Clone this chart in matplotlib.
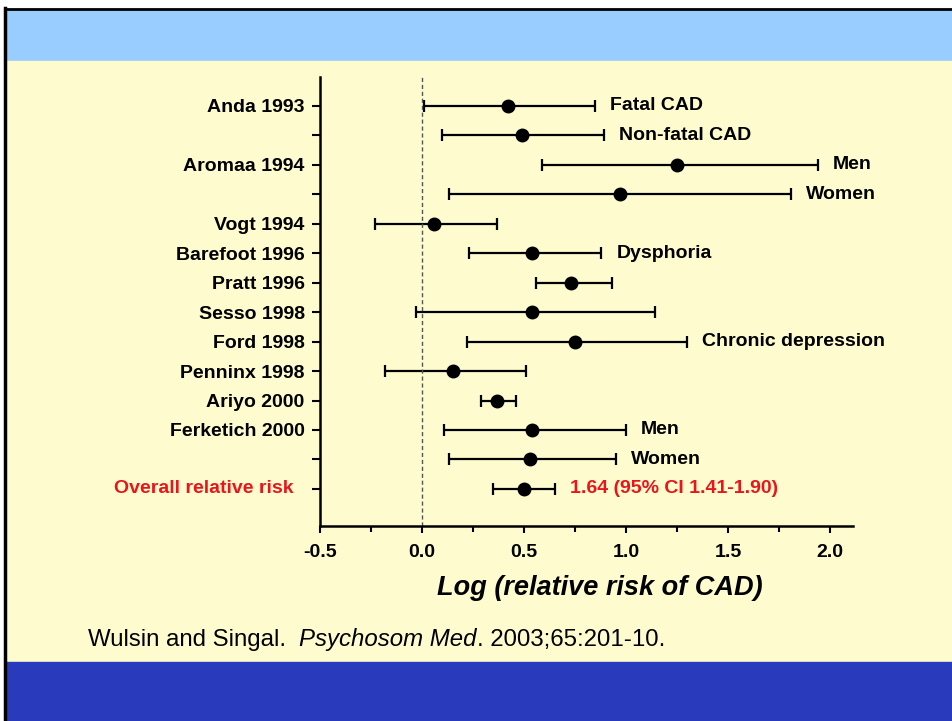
import numpy as np
import matplotlib.pyplot as plt
from matplotlib.patches import Rectangle
from matplotlib.ticker import MultipleLocator

plt.rcParams['font.family'] = ['Liberation Sans', 'DejaVu Sans']

# study rows, top to bottom
studies = ["Anda 1993", "", "Aromaa 1994", "", "Vogt 1994", "Barefoot 1996",
           "Pratt 1996", "Sesso 1998", "Ford 1998", "Penninx 1998",
           "Ariyo 2000", "Ferketich 2000", "", "Overall relative risk"]
notes = ["Fatal CAD", "Non-fatal CAD", "Men", "Women", "", "Dysphoria", "", "",
         "Chronic depression", "", "", "Men", "Women", "1.64 (95% CI 1.41-1.90)"]
log_rr = [0.42, 0.49, 1.25, 0.97, 0.06, 0.54, 0.73, 0.54, 0.75, 0.15, 0.37, 0.54, 0.53, 0.50]
ci_low = [0.01, 0.10, 0.59, 0.13, -0.23, 0.23, 0.56, -0.03, 0.22, -0.18, 0.29, 0.11, 0.13, 0.35]
ci_high = [0.85, 0.89, 1.94, 1.81, 0.37, 0.88, 0.93, 1.14, 1.30, 0.51, 0.46, 1.00, 0.95, 0.65]
x_ticks = [-0.5, 0.0, 0.5, 1.0, 1.5, 2.0]

W, H = 952, 721
RED = '#e8161c'
FS = 14
fig = plt.figure(figsize=(W / 100, H / 100), dpi=100)

# slide background
bg = fig.add_axes([0, 0, 1, 1])
bg.set_xlim(0, W)
bg.set_ylim(H, 0)
bg.axis('off')
bg.add_patch(Rectangle((0, 0), W, H, color='white'))
bg.add_patch(Rectangle((5, 9), W, 52, color='#99ccff'))
bg.add_patch(Rectangle((5, 61), W, 601, color='#fefccf'))
bg.add_patch(Rectangle((5, 662), W, 59, color='#2a3abd'))
bg.plot([5, W], [8.5, 8.5], color='black', lw=2)
bg.plot([5, 5], [8, H], color='black', lw=2.5)

# forest plot
ax = fig.add_axes([320 / W, 1 - 526 / H, (853 - 320) / W, (526 - 77) / H])
ax.set_facecolor('none')
rows = np.arange(len(studies))
err = [np.array(log_rr) - np.array(ci_low), np.array(ci_high) - np.array(log_rr)]
ax.errorbar(log_rr, rows, xerr=err, fmt='o', color='black', ms=9,
            elinewidth=1.6, capsize=4.2, capthick=1.6)
ax.axvline(0, color='#555555', lw=1, ls=(0, (3, 2)))

for i, txt in enumerate(notes):
    if txt:
        ax.annotate(txt, (ci_high[i], rows[i]), xytext=(15, 0), textcoords='offset pixels',
                    ha='left', va='center', fontsize=FS, fontweight='bold',
                    color=RED if i == len(notes) - 1 else 'black')

ax.set_xlim(-0.5, 2.113)
ax.set_ylim(14.26, -0.984)
ax.set_xticks(x_ticks)
ax.set_xticklabels([f"{v:.1f}" for v in x_ticks], fontsize=FS, fontweight='bold')
ax.xaxis.set_minor_locator(MultipleLocator(0.25))
ax.set_yticks(rows)
ax.set_yticklabels(studies[:-1] + [""], fontsize=FS, fontweight='bold')
ax.annotate(studies[-1], (0, rows[-1]), xycoords=('axes fraction', 'data'),
            xytext=(-26, 0), textcoords='offset pixels', ha='right', va='center',
            fontsize=FS, fontweight='bold', color=RED)
ax.tick_params(axis='x', which='major', length=5, width=1.5, pad=8)
ax.tick_params(axis='x', which='minor', length=4, width=1.5)
ax.tick_params(axis='y', length=6, width=1.5, pad=5)
for s in ['top', 'right']:
    ax.spines[s].set_visible(False)
for s in ['left', 'bottom']:
    ax.spines[s].set_linewidth(1.8)

fig.text(600 / W, 1 - 588 / H, "Log (relative risk of CAD)", ha='center', va='center',
         fontsize=19.5, fontweight='bold', fontstyle='italic')

# citation line, pieces placed one after another
fig.canvas.draw()
r = fig.canvas.get_renderer()
x = 88
for txt, style in [("Wulsin and Singal.  ", 'normal'), ("Psychosom Med", 'italic'),
                   (". 2003;65:201-10.", 'normal')]:
    t = fig.text(x / W, 1 - 646 / H, txt, ha='left', va='baseline',
                 fontsize=17.3, fontstyle=style)
    x += t.get_window_extent(r).width

fig.savefig('out.png', dpi=100)
